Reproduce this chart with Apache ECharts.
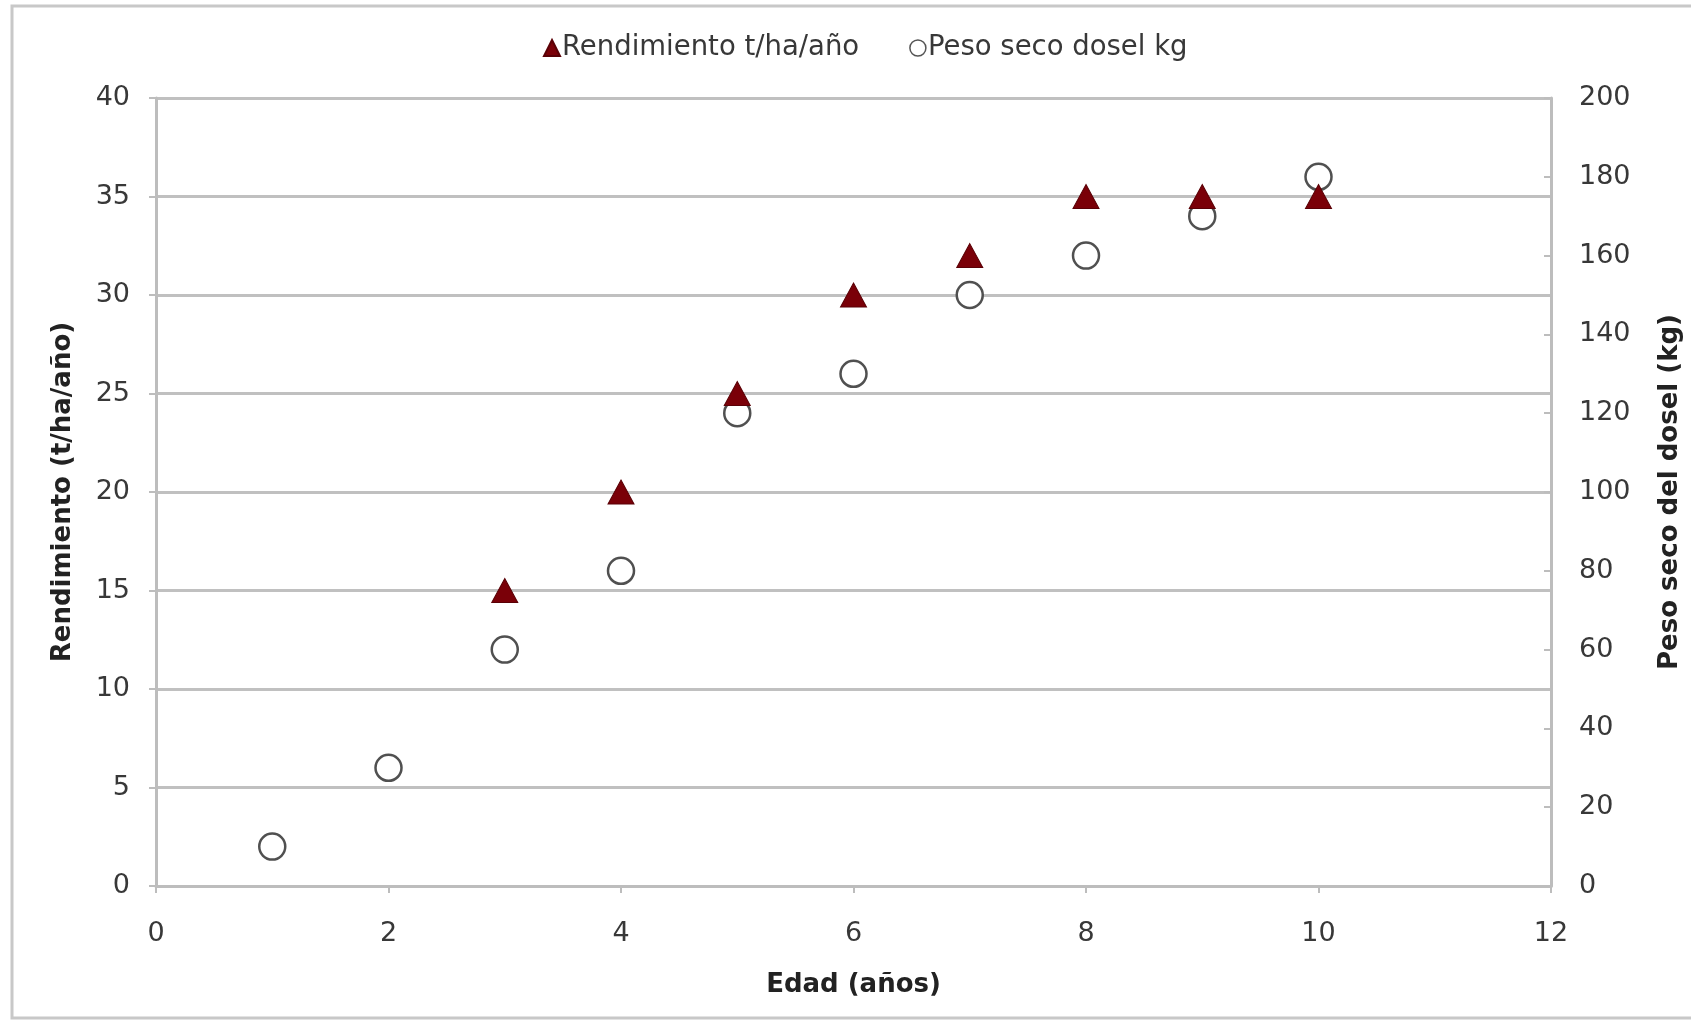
<!DOCTYPE html>
<html>
<head>
<meta charset="utf-8">
<script src="https://cdn.jsdelivr.net/npm/echarts@6/dist/echarts.min.js"></script>
<style>
html,body{margin:0;padding:0;background:#fff;}
#c{width:1691px;height:1023px;}
</style>
</head>
<body>
<div id="c"></div>
<script>
// Data
const edadRend = [3, 4, 5, 6, 7, 8, 9, 10];
const rendimiento = [15, 20, 25, 30, 32, 35, 35, 35];
const edadPeso = [1, 2, 3, 4, 5, 6, 7, 8, 9, 10];
const pesoSeco = [10, 30, 60, 80, 120, 130, 150, 160, 170, 180];

const seriesNames = ['Rendimiento t/ha/año', 'Peso seco dosel kg'];
const xAxisName = 'Edad (años)';
const yLeftName = 'Rendimiento (t/ha/año)';
const yRightName = 'Peso seco del dosel (kg)';

const FONT = 'DejaVu Sans';
const chart = echarts.init(document.getElementById('c'), null, {renderer: 'canvas'});

chart.setOption({
  backgroundColor: '#ffffff',
  animation: false,
  textStyle: {fontFamily: FONT},
  graphic: [{
    type: 'rect', silent: true, z: -10,
    shape: {x: 12, y: 6, width: 1700, height: 1012},
    style: {fill: 'none', stroke: '#c8c8c8', lineWidth: 3}
  }],
  legend: {
    left: 538, top: 29,
    itemWidth: 16, itemHeight: 16, itemGap: 50,
    textStyle: {fontFamily: FONT, fontSize: 27.5, color: '#383838', padding: [0, 0, 0, -3]},
    data: [
      {name: seriesNames[0], icon: 'triangle', itemStyle: {color: '#7a0008'}},
      {name: seriesNames[1], icon: 'circle', itemStyle: {color: '#ffffff', borderColor: '#555', borderWidth: 1.5}}
    ]
  },
  grid: {left: 156, right: 135, top: 98, bottom: 137, containLabel: false},
  xAxis: {
    type: 'value', min: 0, max: 12, interval: 2,
    name: xAxisName, nameLocation: 'middle', nameGap: 86,
    nameTextStyle: {fontFamily: FONT, fontSize: 26, fontWeight: 'bold', color: '#222'},
    axisLine: {show: true, lineStyle: {color: '#bdbdbd', width: 3}},
    axisTick: {show: true, inside: false, length: 7, lineStyle: {color: '#bdbdbd', width: 2}},
    axisLabel: {fontFamily: FONT, fontSize: 27, color: '#383838', margin: 34},
    splitLine: {show: false}
  },
  yAxis: [{
    type: 'value', min: 0, max: 40, interval: 5, position: 'left',
    name: yLeftName, nameLocation: 'middle', nameGap: 80, nameRotate: 90,
    nameTextStyle: {fontFamily: FONT, fontSize: 26, fontWeight: 'bold', color: '#222'},
    axisLine: {show: true, lineStyle: {color: '#bdbdbd', width: 3}},
    axisTick: {show: true, inside: false, length: 7, lineStyle: {color: '#bdbdbd', width: 2}},
    axisLabel: {fontFamily: FONT, fontSize: 27, color: '#383838', margin: 26},
    splitLine: {show: true, lineStyle: {color: '#c0c0c0', width: 3}}
  }, {
    type: 'value', min: 0, max: 200, interval: 20, position: 'right',
    name: yRightName, nameLocation: 'middle', nameGap: 106, nameRotate: 90,
    nameTextStyle: {fontFamily: FONT, fontSize: 26, fontWeight: 'bold', color: '#222'},
    axisLine: {show: true, lineStyle: {color: '#bdbdbd', width: 3}},
    axisTick: {show: true, inside: true, length: 7, lineStyle: {color: '#bdbdbd', width: 2}},
    axisLabel: {fontFamily: FONT, fontSize: 27, color: '#383838', margin: 28},
    splitLine: {show: false}
  }],
  series: [{
    name: seriesNames[1], type: 'scatter', yAxisIndex: 1, z: 2,
    symbol: 'circle', symbolSize: 26,
    itemStyle: {color: '#ffffff', borderColor: '#505050', borderWidth: 2.5, opacity: 1},
    data: edadPeso.map((x, i) => [x, pesoSeco[i]])
  }, {
    name: seriesNames[0], type: 'scatter', yAxisIndex: 0, z: 3,
    symbol: 'triangle', symbolSize: [26, 24],
    itemStyle: {color: '#7a0008', borderColor: '#5a0006', borderWidth: 1, opacity: 1},
    data: edadRend.map((x, i) => [x, rendimiento[i]])
  }]
});
</script>
</body>
</html>
